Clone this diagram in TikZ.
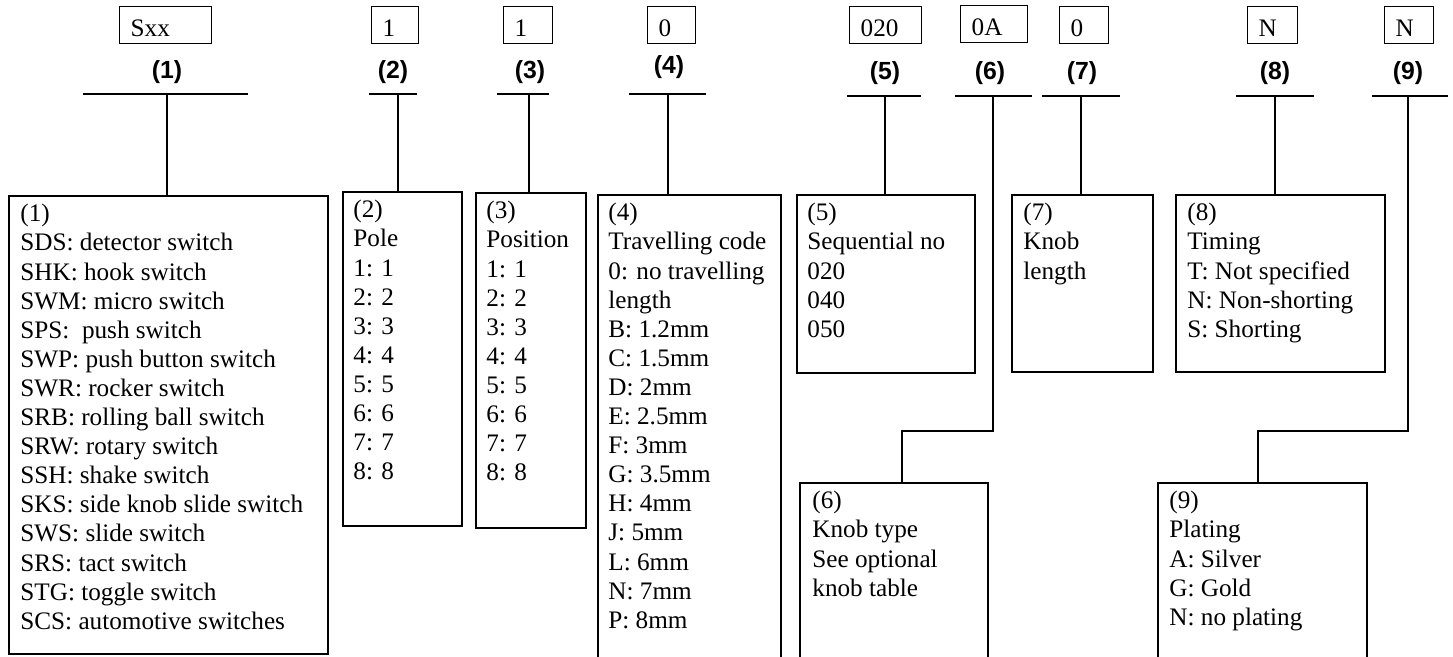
\documentclass[tikz,border=0pt]{standalone}
\usepackage{fontspec}
\setmainfont{Liberation Serif}
\setsansfont{Liberation Sans}
\usetikzlibrary{calc}

\begin{document}
\begin{tikzpicture}
[x=0.5pt, y=-0.5pt,
every node/.style={font=\fontsize{12.6}{14.55}\selectfont},
codebox/.style={draw, line width=.7pt, anchor=north west, inner xsep=5.5pt, inner ysep=0pt,
  minimum height=18.5pt, text height=11.5pt, text depth=0pt, align=left},
num/.style={font=\fontsize{12.4}{14.55}\selectfont\sffamily\bfseries, inner sep=0pt},
bar/.style={line width=.7pt},
link/.style={line width=.7pt},
descbox/.style={draw, line width=.8pt, anchor=north west, inner sep=0pt},
desctext/.style={anchor=north west, align=left, inner sep=0pt, execute at begin node=\strut}]
\useasboundingbox (0,0) rectangle (1453,657);
%%
%% code boxes
\node[codebox, text width=35pt] (c1) at (119,6) {Sxx};
\node[codebox, text width=12.5pt] (c2) at (371,6) {1};
\node[codebox, text width=13.5pt] (c3) at (503,6) {1};
\node[codebox, text width=13pt] (c4) at (647,6) {0};
\node[codebox, text width=25pt] (c5) at (849,6) {020};
\node[codebox, text width=22.5pt] (c6) at (960,5) {0A};
\node[codebox, text width=13.5pt] (c7) at (1059,6) {0};
\node[codebox, text width=14pt] (c8) at (1247,6) {N};
\node[codebox, text width=13.5pt] (c9) at (1384,6) {N};
%%
%% position numbers
\node[num] (l1) at (167,72) {(1)};
\node[num] (l2) at (393,72) {(2)};
\node[num] (l3) at (530,72) {(3)};
\node[num] (l4) at (669,67) {(4)};
\node[num] (l5) at (885,73) {(5)};
\node[num] (l6) at (990,73) {(6)};
\node[num] (l7) at (1082,73) {(7)};
\node[num] (l8) at (1275,73) {(8)};
\node[num] (l9) at (1408,73) {(9)};
%%
%% bars and stems
\coordinate (s1) at (167,94);
\coordinate (s2) at (398,94);
\coordinate (s3) at (529,94);
\coordinate (s4) at (668,94);
\coordinate (s5) at (885,96);
\coordinate (s6) at (993,96);
\coordinate (s7) at (1081,96);
\coordinate (s8) at (1275,96);
\coordinate (s9) at (1408,96);
\draw[bar] (83,94) -- (248,94);
\draw[bar] (369,94) -- (417,94);
\draw[bar] (497,94) -- (549,94);
\draw[bar] (629,94) -- (706,94);
\draw[bar] (847,96) -- (921,96);
\draw[bar] (955,96) -- (1032,96);
\draw[bar] (1042,96) -- (1120,96);
\draw[bar] (1236,96) -- (1314,96);
\draw[bar] (1372,96) -- (1448,96);
%%
%% description boxes
\node[descbox, minimum width=159.5pt, minimum height=229pt] (d1) at (8,195) {};
\node[descbox, minimum width=59.5pt, minimum height=167pt] (d2) at (342,191) {};
\node[descbox, minimum width=55pt, minimum height=167.5pt] (d3) at (475,192) {};
\node[descbox, minimum width=91.5pt, minimum height=253pt] (d4) at (597,194) {};
\node[descbox, minimum width=89pt, minimum height=89pt] (d5) at (796,194) {};
\node[descbox, minimum width=94pt, minimum height=109pt] (d6) at (799,482) {};
\node[descbox, minimum width=70.5pt, minimum height=88.5pt] (d7) at (1011,194) {};
\node[descbox, minimum width=104.5pt, minimum height=88.5pt] (d8) at (1175,194) {};
\node[descbox, minimum width=104.5pt, minimum height=109pt] (d9) at (1157,482) {};
%%
\node[desctext] (t1) at ($(d1.north west)+(12,9)$) {(1)\\SDS: detector switch\\SHK: hook switch\\SWM: micro switch\\SPS: ~push switch\\SWP: push button switch\\SWR: rocker switch\\SRB: rolling ball switch\\SRW: rotary switch\\SSH: shake switch\\SKS: side knob slide switch\\SWS: slide switch\\SRS: tact switch\\STG: toggle switch\\SCS: automotive switches};
\node[desctext] (t2) at ($(d2.north west)+(11,9)$) {(2)\\Pole\\1: 1\\2: 2\\3: 3\\4: 4\\5: 5\\6: 6\\7: 7\\8: 8};
\node[desctext] (t3) at ($(d3.north west)+(11,9)$) {(3)\\Position\\1: 1\\2: 2\\3: 3\\4: 4\\5: 5\\6: 6\\7: 7\\8: 8};
\node[desctext] (t4) at ($(d4.north west)+(11,9)$) {(4)\\Travelling code\\0: no travelling\\length\\B: 1.2mm\\C: 1.5mm\\D: 2mm\\E: 2.5mm\\F: 3mm\\G: 3.5mm\\H: 4mm\\J: 5mm\\L: 6mm\\N: 7mm\\P: 8mm};
\node[desctext] (t5) at ($(d5.north west)+(11,9)$) {(5)\\Sequential no\\020\\040\\050};
\node[desctext] (t6) at ($(d6.north west)+(13,9)$) {(6)\\Knob type\\See optional\\knob table};
\node[desctext] (t7) at ($(d7.north west)+(12,9)$) {(7)\\Knob\\length};
\node[desctext] (t8) at ($(d8.north west)+(12,9)$) {(8)\\Timing\\T: Not specified\\N: Non-shorting\\S: Shorting};
\node[desctext] (t9) at ($(d9.north west)+(12,9)$) {(9)\\Plating\\A: Silver\\G: Gold\\N: no plating};
%%
%% links
\coordinate (j6) at (902,431);
\coordinate (j9) at (1258,431);
\draw[link] (s1) -- (s1 |- d1.north);
\draw[link] (s2) -- (s2 |- d2.north);
\draw[link] (s3) -- (s3 |- d3.north);
\draw[link] (s4) -- (s4 |- d4.north);
\draw[link] (s5) -- (s5 |- d5.north);
\draw[link] (s6) |- (j6) -- (j6 |- d6.north);
\draw[link] (s7) -- (s7 |- d7.north);
\draw[link] (s8) -- (s8 |- d8.north);
\draw[link] (s9) |- (j9) -- (j9 |- d9.north);
\end{tikzpicture}
\end{document}
